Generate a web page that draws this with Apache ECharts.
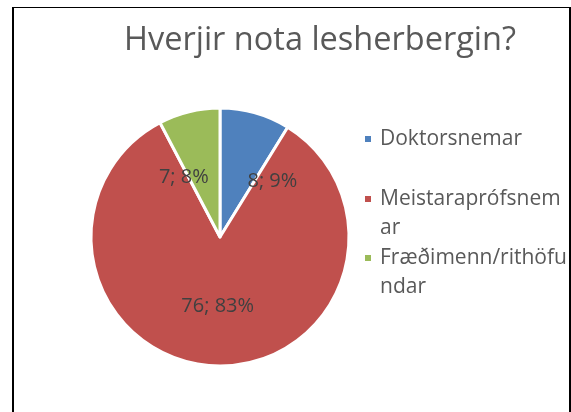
<!DOCTYPE html>
<html>
<head>
<meta charset="utf-8">
<script src="https://cdn.jsdelivr.net/npm/echarts@6/dist/echarts.min.js"></script>
<style>
  html, body { margin: 0; padding: 0; background: #fff; }
  #frame {
    position: absolute; left: 12px; top: 7px; width: 555px; height: 420px;
    border-top: 1px solid #000; border-left: 2px solid #000; border-right: 2px solid #000;
  }
  #chart { position: absolute; left: 0; top: 0; width: 571px; height: 412px; }
</style>
</head>
<body>
<div id="frame"></div>
<div id="chart"></div>
<script>
// data
const categories = ["Doktorsnemar", "Meistaraprófsnemar", "Fræðimenn/rithöfundar"];
const values = [8, 76, 7];
const colors = ["#4f81bd", "#c0504d", "#9bbb59"];
// how the legend wraps in the original (blank first line keeps the marker on the first text line)
const legendText = {
  "Doktorsnemar": "Doktorsnemar",
  "Meistaraprófsnemar": "\nMeistaraprófsnem\nar",
  "Fræðimenn/rithöfundar": "\nFræðimenn/rithöfu\nndar"
};
// legend rows, y of the marker line
const legendRowY = [139, 199, 258];
// best-fit style nudges of the slice labels
const labelNudge = [[34, 9], [0, 2], [-20, 6]];

const chart = echarts.init(document.getElementById("chart"));

const font = "Open Sans";
const lineH = 29.5;

const pieData = categories.map((name, i) => ({
  name: name,
  value: values[i],
  itemStyle: { color: colors[i] },
  label: { offset: labelNudge[i] }
}));

const legends = categories.map((name, i) => {
  const lines = legendText[name].split("\n").length;
  return {
    orient: "vertical",
    left: 363,
    top: legendRowY[i] - lines * lineH / 2,
    padding: 0,
    itemWidth: 8,
    itemHeight: 8,
    icon: "rect",
    data: [name],
    formatter: n => legendText[n],
    textStyle: {
      fontFamily: font,
      fontSize: 21,
      lineHeight: lineH,
      color: "#595959",
      padding: [0, 0, 0, 3]
    }
  };
});

chart.setOption({
  animation: false,
  title: {
    text: "Hverjir nota lesherbergin?",
    left: 315,
    top: 19,
    textAlign: "center",
    textStyle: {
      fontFamily: font,
      fontSize: 32.5,
      fontWeight: "normal",
      color: "#595959"
    }
  },
  legend: legends,
  series: [{
    type: "pie",
    center: [220, 237],
    radius: 129,
    startAngle: 90,
    clockwise: true,
    avoidLabelOverlap: false,
    percentPrecision: 0,
    itemStyle: { borderColor: "#fff", borderWidth: 3 },
    label: {
      position: "inside",
      formatter: "{c}; {d}%",
      fontFamily: font,
      fontSize: 20,
      color: "#404040"
    },
    labelLine: { show: false },
    emphasis: { disabled: true },
    data: pieData
  }]
});
</script>
</body>
</html>
